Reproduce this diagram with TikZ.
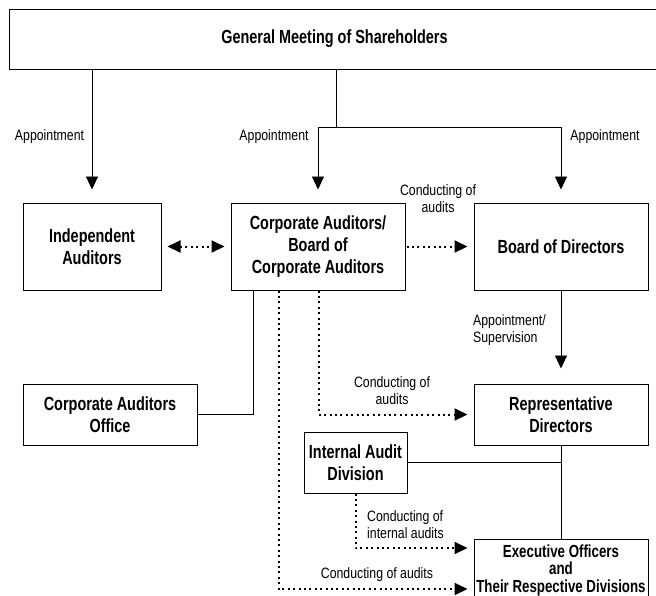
\documentclass[tikz,border=0pt]{standalone}
\usepackage{fontspec}
\setmainfont{Liberation Sans}[FakeStretch=0.76]
\newfontfamily\lblfont{Liberation Sans}[FakeStretch=0.82]
\usetikzlibrary{arrows.meta,calc}
\begin{document}
\begin{tikzpicture}[x=1pt,y=-1pt,
  box/.style={draw, line width=1pt, align=center, inner sep=0pt,
    font=\fontsize{19}{22}\selectfont\bfseries},
  lbl/.style={inner sep=0pt, font=\lblfont\fontsize{15}{17}\selectfont},
  conn/.style={line width=0.9pt},
  dots/.style={line width=2pt, dash pattern=on 2pt off 3.4pt},
  tip/.style={-{Triangle[length=13pt,width=12pt]}},
  dtip/.style={{Triangle[length=13pt,width=12pt]}-{Triangle[length=13pt,width=12pt]}}]
\useasboundingbox (0,0) rectangle (656,595);
\clip (0,0) rectangle (656,595);
\fill[white] (0,0) rectangle (656,595);

% boxes
\node[box, minimum width=651pt, minimum height=60pt] (gm) at (334.5,39) {General Meeting of Shareholders};
\node[box, minimum width=138pt, minimum height=87pt] (ia) at (92,246.5) {Independent\\Auditors};
\node[box, minimum width=174pt, minimum height=87pt] (ca) at (318,246.5) {Corporate Auditors/\\Board of\\Corporate Auditors};
\node[box, minimum width=174pt, minimum height=87pt] (bod) at (561,246.5) {Board of Directors};
\node[box, minimum width=174pt, minimum height=61pt] (cao) at (110,414.5) {Corporate Auditors\\Office};
\node[box, minimum width=174pt, minimum height=61pt] (rd) at (561,414.5) {Representative\\Directors};
\node[box, minimum width=103pt, minimum height=61pt] (iad) at (355.5,462.5) {Internal Audit\\Division};
\node[box, minimum width=174pt, minimum height=62pt, font=\fontsize{17.5}{17.5}\selectfont\bfseries] (ex) at (561,570) {Executive Officers\\and\\Their Respective Divisions};

% appointment connectors
\coordinate (j) at (336,127);
\draw[conn,tip,shorten >=13pt] (gm.south -| ia.north) -- (ia.north);
\draw[conn] (gm.south -| j) -- (j);
\draw[conn,tip,shorten >=13pt] (j) -| (ca.north);
\draw[conn,tip,shorten >=13pt] (j) -| (bod.north);
\draw[conn,tip,shorten >=15pt] (bod.south) -- (rd.north);

% audit connectors
\draw[dots,dtip,shorten <=6pt,shorten >=6pt] (ia.east) -- (ca.west);
\draw[dots,tip,shorten <=1pt,shorten >=6pt] (ca.east) -- (bod.west);

\coordinate (caL) at ($(ca.south west)+(23,0)$);
\coordinate (caD) at ($(ca.south west)+(48,0)$);
\coordinate (caM) at ($(ca.south west)+(88,0)$);
\coordinate (exA) at ($(ex.west)+(0,19)$);
\coordinate (exB) at ($(ex.west)+(0,-22)$);

\draw[conn] (caL) |- (cao.east);
\draw[dots,tip,shorten >=6pt] (caM) |- (rd.west);
\draw[dots,tip,shorten >=6pt] (caD) |- (exA);
\draw[dots,tip,shorten >=6pt] (iad.south) |- (exB);

\coordinate (k) at (iad.east -| rd.south);
\draw[conn] (iad.east) -- (k);
\draw[conn] (rd.south) -- (ex.north);

% labels
\node[lbl] (a1) at (49.5,137) {Appointment};
\node[lbl] (a2) at (274,137) {Appointment};
\node[lbl] (a3) at (605,137) {Appointment};
\node[lbl, align=center] (l1) at (438,198.5) {Conducting of\\audits};
\node[lbl, align=left, anchor=west] (a4) at (473,330) {Appointment/\\Supervision};
\node[lbl, align=center] (l2) at (392,390.5) {Conducting of\\audits};
\node[lbl, align=left, anchor=west] (l3) at (367,524.5) {Conducting of\\internal audits};
\node[lbl] (l4) at (377,575) {Conducting of audits};
\end{tikzpicture}
\end{document}
